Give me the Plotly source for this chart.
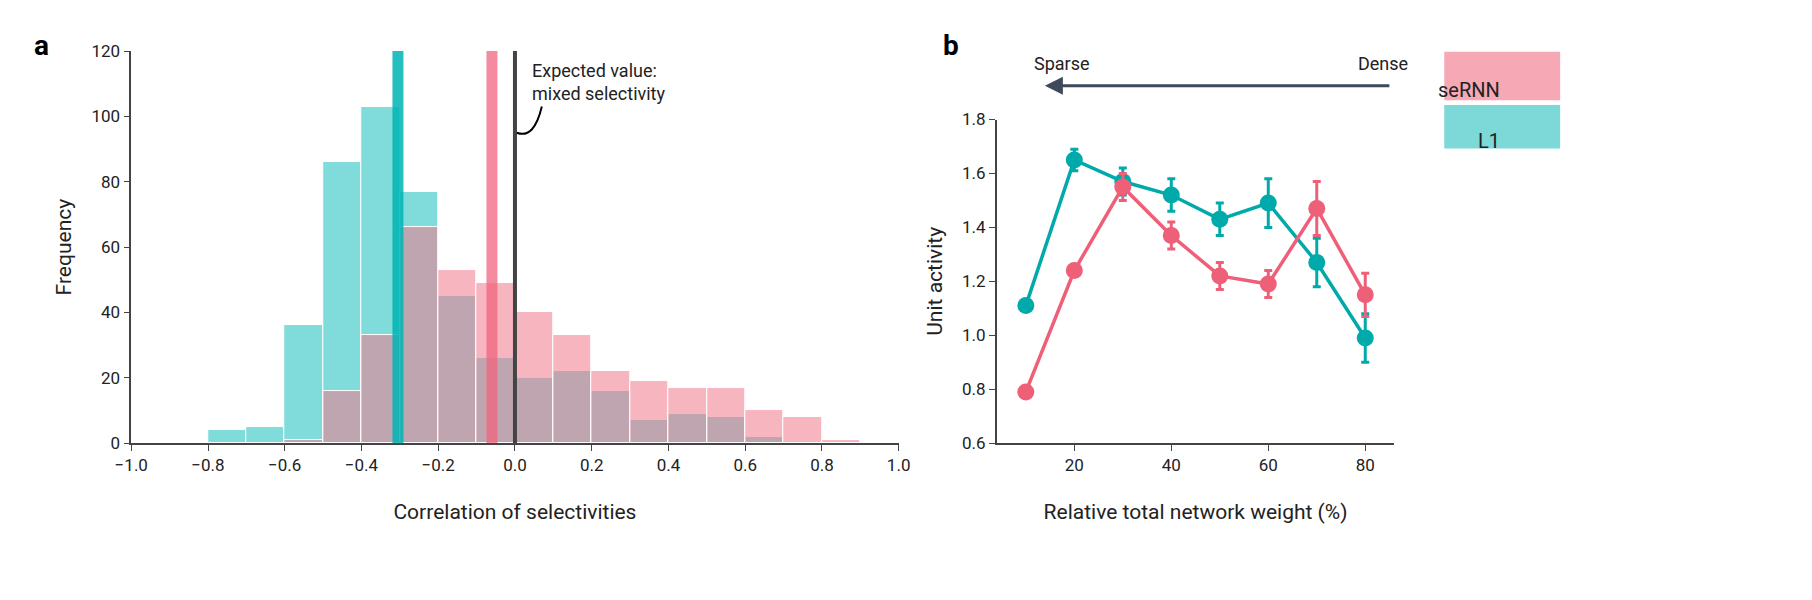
import plotly.graph_objects as go

# panel a: histogram of correlation of selectivities
bin_centers = [-0.75, -0.65, -0.55, -0.45, -0.35, -0.25, -0.15, -0.05, 0.05, 0.15,
               0.25, 0.35, 0.45, 0.55, 0.65, 0.75, 0.85]
l1_counts = [4, 5, 36, 86, 103, 77, 45, 26, 20, 22, 16, 7, 9, 8, 2, 0, 0]
sernn_counts = [0, 0, 1, 16, 33, 66, 53, 49, 40, 33, 22, 19, 17, 17, 10, 8, 1]
l1_mean = -0.305
sernn_mean = -0.06
expected = 0.0

# panel b: unit activity vs network weight
weights = [10, 20, 30, 40, 50, 60, 70, 80]
l1_act = [1.11, 1.65, 1.57, 1.52, 1.43, 1.49, 1.27, 0.99]
l1_err = [0.0, 0.04, 0.05, 0.06, 0.06, 0.09, 0.09, 0.09]
sernn_act = [0.79, 1.24, 1.55, 1.37, 1.22, 1.19, 1.47, 1.15]
sernn_err = [0.0, 0.02, 0.05, 0.05, 0.05, 0.05, 0.10, 0.08]

TEAL = "#00aaaa"
TEAL_BAR = "rgba(60,200,200,0.65)"
PINK = "#ee5f78"
PINK_BAR = "rgba(240,120,140,0.55)"
FONT = "Roboto"

fig = go.Figure()
fig.add_trace(go.Bar(x=bin_centers, y=l1_counts, width=0.1, marker_color=TEAL_BAR,
                     marker_line=dict(color="white", width=1), xaxis="x", yaxis="y"))
fig.add_trace(go.Bar(x=bin_centers, y=sernn_counts, width=0.1, marker_color=PINK_BAR,
                     marker_line=dict(color="white", width=1), xaxis="x", yaxis="y"))

fig.add_trace(go.Scatter(x=weights, y=l1_act, mode="lines+markers",
                         line=dict(color=TEAL, width=3.5), marker=dict(size=17, color=TEAL),
                         error_y=dict(array=l1_err, color=TEAL, thickness=3, width=4),
                         xaxis="x2", yaxis="y2"))
fig.add_trace(go.Scatter(x=weights, y=sernn_act, mode="lines+markers",
                         line=dict(color=PINK, width=3.5), marker=dict(size=17, color=PINK),
                         error_y=dict(array=sernn_err, color=PINK, thickness=3, width=4),
                         xaxis="x2", yaxis="y2"))

shapes = [
    dict(type="line", xref="x", yref="y", x0=l1_mean, x1=l1_mean, y0=0, y1=120,
         line=dict(color="rgba(0,180,180,0.85)", width=11)),
    dict(type="line", xref="x", yref="y", x0=sernn_mean, x1=sernn_mean, y0=0, y1=120,
         line=dict(color="rgba(240,100,125,0.75)", width=11)),
    dict(type="line", xref="x", yref="y", x0=expected, x1=expected, y0=0, y1=120,
         line=dict(color="#444444", width=4)),
    dict(type="path", xref="x", yref="y", path="M 0.005,95 Q 0.05,93 0.07,103",
         line=dict(color="black", width=2)),
    dict(type="rect", xref="paper", yref="paper", x0=0.796, x1=0.861, y0=0.858, y1=0.942,
         fillcolor="#f6a9b5", line_width=0),
    dict(type="rect", xref="paper", yref="paper", x0=0.796, x1=0.861, y0=0.775, y1=0.850,
         fillcolor="#7dd8d8", line_width=0),
]

annotations = [
    dict(text="Expected value:<br>mixed selectivity", xref="x", yref="y", x=0.04, y=118,
         xanchor="left", yanchor="top", align="left", showarrow=False,
         font=dict(size=18, color="#222")),
    dict(text="<b>a</b>", xref="paper", yref="paper", x=0.004, y=0.985, showarrow=False,
         xanchor="left", yanchor="top", font=dict(size=28, color="black")),
    dict(text="<b>b</b>", xref="paper", yref="paper", x=0.514, y=0.985, showarrow=False,
         xanchor="left", yanchor="top", font=dict(size=28, color="black")),
    dict(text="Sparse", xref="paper", yref="paper", x=0.565, y=0.922, showarrow=False,
         xanchor="left", yanchor="middle", font=dict(size=18, color="#222")),
    dict(text="Dense", xref="paper", yref="paper", x=0.777, y=0.922, showarrow=False,
         xanchor="right", yanchor="middle", font=dict(size=18, color="#222")),
    dict(text="", xref="paper", yref="paper", x=0.572, y=0.883, ax=346, ay=0,
         axref="pixel", ayref="pixel", showarrow=True, arrowhead=2, arrowsize=1.2,
         arrowwidth=3, arrowcolor="#3e4a5c"),
    dict(text="seRNN", xref="paper", yref="paper", x=0.8285, y=0.9, showarrow=False,
         font=dict(size=20, color="#222")),
    dict(text="L1", xref="paper", yref="paper", x=0.8285, y=0.8125, showarrow=False,
         font=dict(size=20, color="#222")),
]

axis_style = dict(showline=True, linecolor="#444", linewidth=1.5, ticks="outside",
                  ticklen=6, tickcolor="#444", showgrid=False, zeroline=False,
                  tickfont=dict(size=17, color="#222"))

fig.update_layout(
    width=1812, height=600, margin=dict(l=0, r=0, t=0, b=0),
    plot_bgcolor="white", paper_bgcolor="white", barmode="overlay", bargap=0,
    showlegend=False, font=dict(family=FONT, color="#222"),
    shapes=shapes, annotations=annotations,
    xaxis=dict(domain=[0.0596, 0.490], range=[-1.0, 1.0], dtick=0.2, tickformat=".1f",
               title=dict(text="Correlation of selectivities", font=dict(size=21), standoff=30),
               anchor="y", **axis_style),
    yaxis=dict(domain=[0.267, 0.943], range=[0, 120], dtick=20,
               title=dict(text="Frequency", font=dict(size=21), standoff=14),
               anchor="x", **axis_style),
    xaxis2=dict(domain=[0.545, 0.768], range=[4, 86], tickvals=[20, 40, 60, 80],
                title=dict(text="Relative total network weight (%)", font=dict(size=21), standoff=30),
                anchor="y2", **axis_style),
    yaxis2=dict(domain=[0.267, 0.825], range=[0.6, 1.8], dtick=0.2, tickformat=".1f",
                title=dict(text="Unit activity", font=dict(size=21), standoff=14),
                anchor="x2", **axis_style),
)

fig.write_html("out.html")
